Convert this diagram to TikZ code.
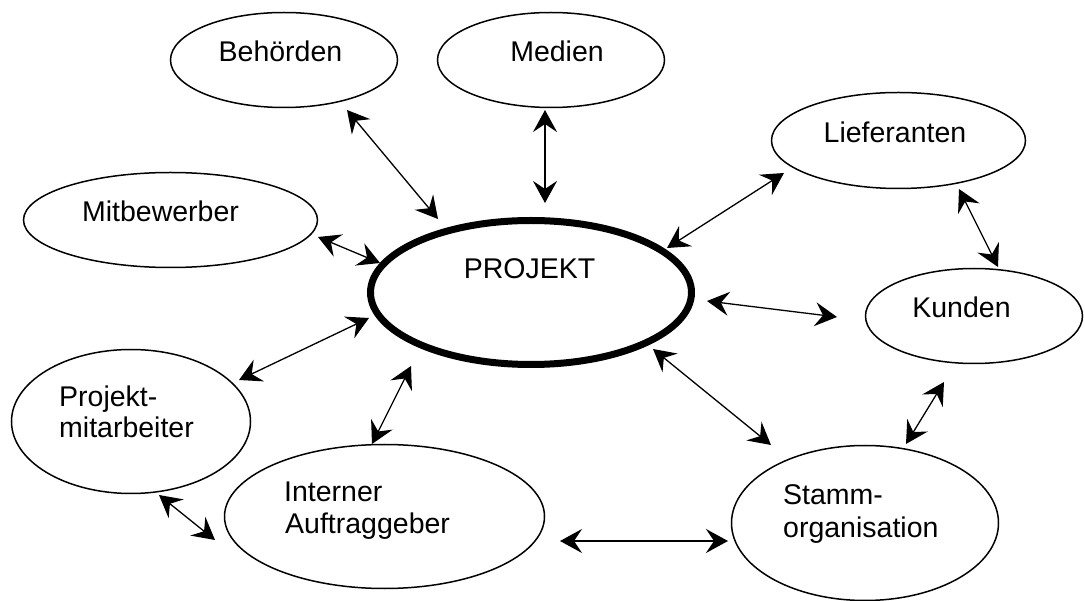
\documentclass[tikz,border=0pt]{standalone}
\usepackage{fontspec}
\setmainfont{Liberation Sans}
\usetikzlibrary{arrows.meta,shapes.geometric}
\begin{document}
\begin{tikzpicture}[x=1pt,y=-1pt,
  ell/.style={ellipse,draw,line width=1.5pt,inner sep=0pt},
  projell/.style={ellipse,draw,line width=7pt,inner sep=0pt},
  lbl/.style={inner sep=0pt,font=\fontsize{28.5}{32}\selectfont},
  arr/.style={line width=1.3pt,{Stealth[length=22pt,width=24pt,inset=8pt]}-{Stealth[length=22pt,width=24pt,inset=8pt]}}]
\useasboundingbox (0,0) rectangle (1085,601);

% stakeholder ellipses
\node[ell,minimum width=227pt,minimum height=95pt] (beh)   at (284,60)      {};
\node[ell,minimum width=227pt,minimum height=95pt] (med)   at (551,60)      {};
\node[ell,minimum width=254pt,minimum height=96pt] (lief)  at (898.5,140.5) {};
\node[ell,minimum width=294pt,minimum height=95pt] (mitb)  at (170.5,220)   {};
\node[ell,minimum width=217pt,minimum height=95pt] (kund)  at (974,316)     {};
\node[ell,minimum width=239pt,minimum height=144pt] (pm)   at (131,421.5)   {};
\node[ell,minimum width=320pt,minimum height=144pt] (int)  at (384.5,516.5) {};
\node[ell,minimum width=267pt,minimum height=155pt] (stamm) at (865,523)    {};
% the project itself
\node[projell,minimum width=321pt,minimum height=144pt] (proj) at (531,292.5) {};

% labels
\node[lbl,anchor=base] (tbeh)  at (280.5,62)  {Behörden};
\node[lbl,anchor=base] (tmed)  at (557,62)    {Medien};
\node[lbl,anchor=base] (tlief) at (895,143)   {Lieferanten};
\node[lbl,anchor=base] (tmitb) at (160.5,222) {Mitbewerber};
\node[lbl,anchor=base] (tproj) at (529.5,279) {PROJEKT};
\node[lbl,anchor=base] (tkund) at (961.5,318) {Kunden};
\node[lbl,anchor=base west] (tpm1) at (59,407)  {Projekt-};
\node[lbl,anchor=base west] (tpm2) at (59,438)  {mitarbeiter};
\node[lbl,anchor=base west] (tin1) at (284,502) {Interner};
\node[lbl,anchor=base west] (tin2) at (285,533) {Auftraggeber};
\node[lbl,anchor=base west] (tst1) at (783,504) {Stamm-};
\node[lbl,anchor=base west] (tst2) at (783,537) {organisation};

% connector end points
\coordinate (beh-p)   at (347,110);  \coordinate (p-beh)   at (438,219);
\coordinate (med-p)   at (545,110);  \coordinate (p-med)   at (545,203);
\coordinate (lief-p)  at (784,173);  \coordinate (p-lief)  at (667,248);
\coordinate (mitb-p)  at (318,237);  \coordinate (p-mitb)  at (380,263);
\coordinate (p-kund)  at (707,301);  \coordinate (kund-p)  at (837,317);
\coordinate (lief-k)  at (959,189);  \coordinate (kund-l)  at (998,267);
\coordinate (pm-p)    at (239,380);  \coordinate (p-pm)    at (369,318);
\coordinate (int-p)   at (372,444);  \coordinate (p-int)   at (411,366);
\coordinate (p-st)    at (653,349);  \coordinate (st-p)    at (771,445);
\coordinate (kund-s)  at (944,382);  \coordinate (st-k)    at (906,444);
\coordinate (pm-i)    at (159,495);  \coordinate (int-pm)  at (215,540);
\coordinate (int-s)   at (560,541);  \coordinate (st-i)    at (728,541);

% two-way relations
\draw[arr] (beh-p)  -- (p-beh);
\draw[arr] (med-p)  -- (p-med);
\draw[arr] (lief-p) -- (p-lief);
\draw[arr] (mitb-p) -- (p-mitb);
\draw[arr] (p-kund) -- (kund-p);
\draw[arr] (lief-k) -- (kund-l);
\draw[arr] (pm-p)   -- (p-pm);
\draw[arr] (int-p)  -- (p-int);
\draw[arr] (p-st)   -- (st-p);
\draw[arr] (kund-s) -- (st-k);
\draw[arr] (pm-i)   -- (int-pm);
\draw[arr] (int-s)  -- (st-i);
\end{tikzpicture}
\end{document}
